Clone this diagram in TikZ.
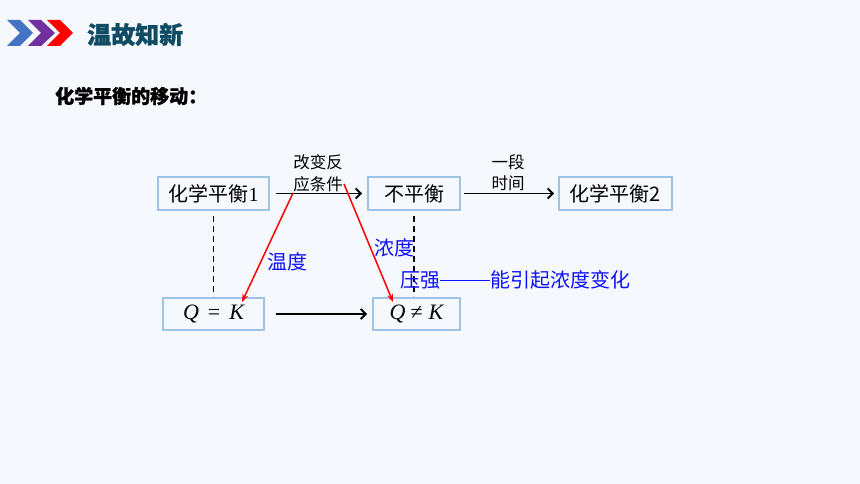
\documentclass[tikz,border=0pt]{standalone}
\usepackage{fontspec}
\setmainfont{Noto Sans CJK SC}
\newfontfamily\heavyfont[FakeBold=1.2]{Noto Sans CJK SC}
\newfontfamily\serifit{Liberation Serif}
\usetikzlibrary{arrows.meta}
\definecolor{bg}{HTML}{F5F8FC}
\definecolor{boxblue}{HTML}{9DC3E6}
\definecolor{titlecol}{HTML}{0F4C64}
\definecolor{chevblue}{HTML}{4472C4}
\definecolor{chevpurple}{HTML}{7030A0}
\definecolor{chevred}{HTML}{FF0000}
\definecolor{labblue}{HTML}{1010FF}
\tikzset{
  statebox/.style={draw=boxblue, line width=2pt, inner sep=0pt, font=\fontsize{20}{24}\selectfont},
  flowarrow/.style={line width=1.8pt, -{Straight Barb[length=5pt,width=10pt,line width=1.8pt]}},
  dashline/.style={line width=1.8pt, dash pattern=on 6pt off 4pt},
  redarrow/.style={red, line width=1.5pt, -{Stealth[length=8pt,width=6pt]}},
  smalllab/.style={font=\fontsize{16.5}{21.5}\selectfont, align=center, inner sep=0pt},
  bluelab/.style={text=labblue, font=\fontsize{20}{24}\selectfont, inner sep=0pt},
}
\begin{document}
\begin{tikzpicture}[x=1pt,y=-1pt]
\fill[bg] (0,0) rectangle (860,484);
\useasboundingbox (0,0) rectangle (860,484);

% header chevrons
\fill[chevblue] (7,20) -- (20,20) -- (33,33) -- (20,46) -- (7,46) -- (20,33) -- cycle;
\fill[chevpurple] (28,20) -- (41,20) -- (55,33) -- (41,46) -- (28,46) -- (41,33) -- cycle;
\fill[chevred] (47,20) -- (60,20) -- (73,33) -- (60,46) -- (47,46) -- (60,33) -- cycle;
\node[anchor=west, inner sep=0pt, text=titlecol, font=\fontsize{24}{28}\selectfont\heavyfont\bfseries] (title) at (87,34.5) {温故知新};

\node[anchor=west, inner sep=0pt, font=\fontsize{19}{23}\selectfont\heavyfont\bfseries] (sub) at (55,96) {化学平衡的移动：};

% boxes
\node[statebox, minimum width=111pt, minimum height=33pt] (eq1) at (213.5,193.5) {化学平衡{\serifit 1}};
\node[statebox, minimum width=92pt, minimum height=33pt] (neq) at (414,193.5) {不平衡};
\node[statebox, minimum width=113pt, minimum height=33pt] (eq2) at (615.5,193.5) {化学平衡2};
\node[statebox, minimum width=101pt, minimum height=32pt] (qk) at (213.5,314) {\fontsize{22}{26}\selectfont\serifit\itshape Q\hspace{9pt}\upshape=\hspace{9pt}\itshape K};
\node[statebox, minimum width=87pt, minimum height=32pt] (qnk) at (416.5,314) {\fontsize{22}{26}\selectfont\serifit\itshape Q\hspace{5pt}\upshape≠\hspace{6pt}\itshape K};

% horizontal arrows
\draw[flowarrow, shorten <=6pt, shorten >=5pt] (eq1.east) -- (neq.west);
\draw[flowarrow, shorten <=3pt, shorten >=4pt] (neq.east) -- (eq2.west);
\draw[flowarrow, shorten <=11pt, shorten >=5pt] (qk.east) -- (qk.east -| qnk.west);

% labels on arrows
\node[smalllab] (cond) at (318,173) {改变反\\应条件};
\node[smalllab] (time) at (508,172.5) {一段\\时间};

% dashed verticals
\draw[dashline, shorten <=5pt, shorten >=1pt] (eq1.south) -- (qk.north);
\draw[dashline, shorten <=5pt, shorten >=1pt] (neq.south) -- (neq.south |- qnk.north);

% red arrows
\coordinate (r1s) at (293,193);
\coordinate (r1e) at (242,302);
\coordinate (r2s) at (344,184);
\coordinate (r2e) at (393,302);
\draw[redarrow] (r1s) -- (r1e);
\draw[redarrow] (r2s) -- (r2e);

% blue labels
\node[bluelab] (temp) at (287,262) {温度};
\node[bluelab] (conc) at (394,248) {浓度};
\node[bluelab] (pres) at (420,280) {压强};
\node[bluelab] (effect) at (560,280) {能引起浓度变化};
\draw[labblue, line width=0.8pt] (pres.east) -- (effect.west);
\end{tikzpicture}
\end{document}
